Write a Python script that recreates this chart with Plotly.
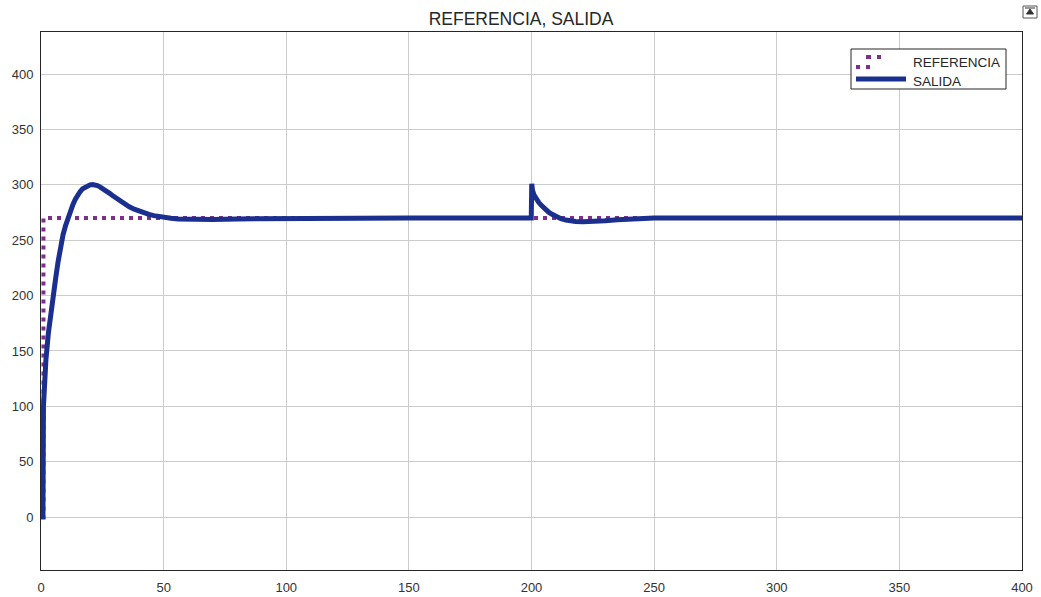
import plotly.graph_objects as go

# Reference signal: step to 270 at t = 1
ref_t = [0, 1, 1, 400]
ref_y = [0, 0, 270, 270]

# Plant output: step response with overshoot, load disturbance at t = 200
out_t = [0, 0.8, 1.0, 1.5, 2, 3, 4, 5, 6, 7, 8, 9, 10, 11, 12, 13, 14, 15, 16, 17,
         18, 19, 20, 21, 22, 23, 24, 25, 26, 27, 28, 29, 30, 32, 34, 36, 38, 40,
         42, 44, 46, 48, 50, 53, 56, 60, 65, 70, 80, 100, 150,
         199.9, 200.1, 200.4, 201, 202, 203, 204, 205, 206, 207, 208, 209, 210,
         212, 214, 216, 218, 221, 224, 227, 230, 235, 240, 245, 250, 300, 400]
out_y = [0, 0, 100, 125, 142, 166, 186, 201, 216, 231, 245, 255, 263, 270, 277,
         282, 287, 291, 294, 296.5, 298, 299.5, 300, 300.3, 300, 299.3, 298.2, 297,
         295.5, 294, 292.3, 290.6, 289, 285.8, 282.8, 280.2, 278, 276.2,
         274.6, 273.3, 272.2, 271.3, 270.6, 269.8, 269.2, 268.8, 268.7, 268.8, 269.2,
         269.6, 270,
         270, 301, 295, 291, 287, 284, 281.5, 279, 277, 275.3, 273.8, 272.4, 271.2,
         269.4, 268.2, 267.4, 266.9, 266.6, 266.7, 267.1, 267.6, 268.5, 269.2, 269.7,
         270, 270, 270]

x_ticks = [0, 50, 100, 150, 200, 250, 300, 350, 400]
y_ticks = [0, 50, 100, 150, 200, 250, 300, 350, 400]

BLUE = "#1b2f8f"
PURPLE = "#7e2f8e"
FONT = "Liberation Sans, Arial, sans-serif"
TEXT = "#262626"

W, H = 1041, 597
ML, MR, MT, MB = 41, 19, 32, 27


def px(x):
    return (x - ML) / (W - ML - MR)


def py(y):
    return (H - MB - y) / (H - MT - MB)


fig = go.Figure()
fig.add_trace(go.Scatter(
    x=ref_t, y=ref_y, mode="lines", name="REFERENCIA",
    line=dict(color=PURPLE, width=4, dash="4px,5px"),
))
fig.add_trace(go.Scatter(
    x=out_t, y=out_y, mode="lines", name="SALIDA",
    line=dict(color=BLUE, width=5),
))

axis_common = dict(
    showgrid=True, gridcolor="#cccccc", gridwidth=1,
    zeroline=False, showline=True, linecolor=TEXT, linewidth=1,
    mirror=True, ticks="", automargin=False,
    tickfont=dict(family=FONT, size=13, color="#333333"),
)

fig.update_layout(
    width=W, height=H,
    margin=dict(l=ML, r=MR, t=MT, b=MB, autoexpand=False),
    paper_bgcolor="white", plot_bgcolor="white",
    title=dict(text="REFERENCIA, SALIDA", x=px(532), xanchor="center",
               y=1 - 19 / H, yanchor="middle",
               font=dict(family=FONT, size=17.5, color=TEXT)),
    xaxis=dict(range=[0, 400], tickvals=x_ticks, ticklabelstandoff=5, **axis_common),
    yaxis=dict(range=[-47.8, 438], tickvals=y_ticks, ticklabelstandoff=4, **axis_common),
    showlegend=False,
)

# Legend box
fig.add_shape(type="rect", xref="paper", yref="paper",
              x0=px(851), x1=px(1006), y0=py(89), y1=py(49),
              line=dict(color=TEXT, width=1), fillcolor="white")
# REFERENCIA legend symbol (dotted)
for x0, x1, y0, y1 in [(866, 871, 55, 59), (877, 881, 55, 59),
                       (856, 860, 65, 69), (866, 870, 65, 69)]:
    fig.add_shape(type="rect", xref="paper", yref="paper",
                  x0=px(x0), x1=px(x1), y0=py(y1), y1=py(y0),
                  line=dict(width=0), fillcolor=PURPLE)
# SALIDA legend symbol (solid)
fig.add_shape(type="line", xref="paper", yref="paper",
              x0=px(856), x1=px(906), y0=py(79), y1=py(79),
              line=dict(color=BLUE, width=5))
fig.add_annotation(xref="paper", yref="paper", x=px(911), y=py(62.5),
                   xanchor="left", yanchor="middle", showarrow=False,
                   text="REFERENCIA", font=dict(family=FONT, size=13.5, color=TEXT))
fig.add_annotation(xref="paper", yref="paper", x=px(911), y=py(81),
                   xanchor="left", yanchor="middle", showarrow=False,
                   text="SALIDA", font=dict(family=FONT, size=13.5, color=TEXT))

# Small window-control icon in the top-right corner
fig.add_shape(type="rect", xref="paper", yref="paper",
              x0=px(1023), x1=px(1037), y0=py(18), y1=py(6),
              line=dict(color="#555555", width=1), fillcolor="white")
fig.add_shape(type="path", xref="paper", yref="paper",
              path="M {a},{b} L {c},{b} L {d},{e} Z".format(
                  a=px(1026.5), c=px(1033.5), d=px(1030), b=py(14), e=py(9)),
              line=dict(color="#333333", width=1), fillcolor="#333333")
fig.add_shape(type="line", xref="paper", yref="paper",
              x0=px(1025), x1=px(1035), y0=py(8), y1=py(8),
              line=dict(color="#333333", width=1))

fig.write_html("out.html")
